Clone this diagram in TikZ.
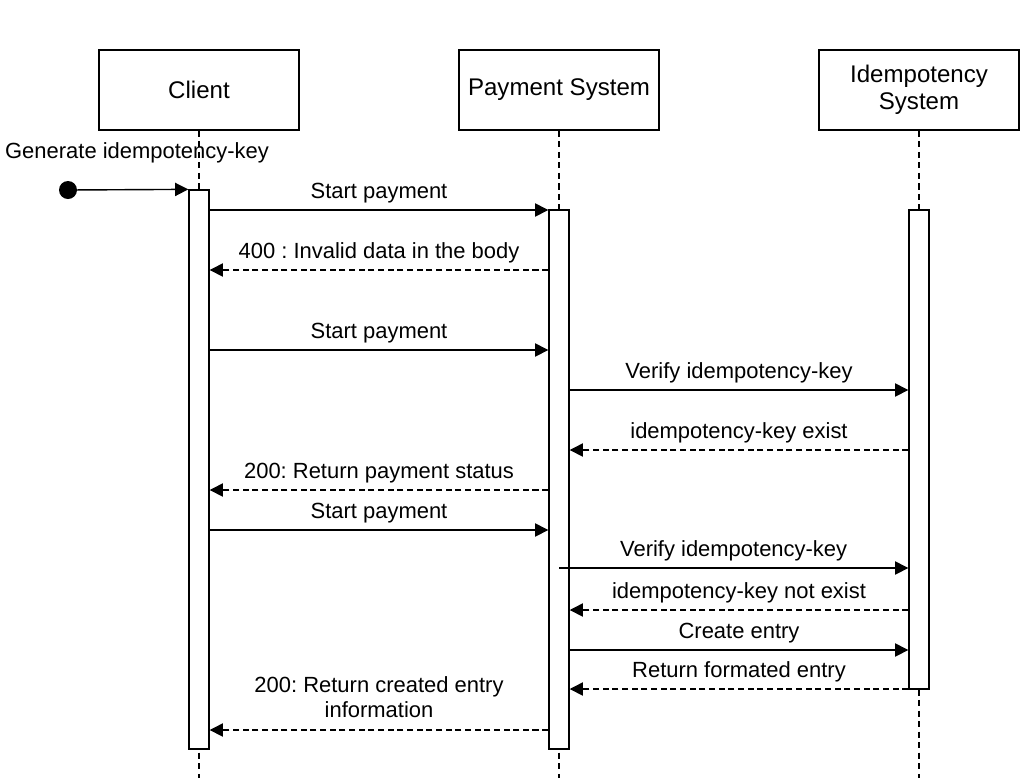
\documentclass[tikz,border=0pt]{standalone}
\usepackage{fontspec}
\setmainfont{Liberation Sans}
\usetikzlibrary{arrows.meta}
\frenchspacing
\begin{document}
\begin{tikzpicture}[x=0.02cm,y=-0.02cm,line width=0.8pt,
    every node/.style={font=\fontsize{12.5}{14.3}\selectfont},
    actor/.style={draw,fill=white,minimum width=4cm,minimum height=1.6cm,align=center,
        font=\fontsize{13.7}{15.3}\selectfont},
    act/.style={draw,fill=white,minimum width=0.4cm},
    life/.style={dash pattern=on 3.5pt off 2.5pt},
    msg/.style={-{Triangle[length=7.5pt,width=7.5pt]}},
    ret/.style={msg,dash pattern=on 3.5pt off 2pt}]
    \useasboundingbox (0,0) rectangle (1026,778);
    \node[actor] (client) at (199,90) {Client};
    \node[actor] (pay) at (559,90) {Payment System};
    \node[actor] (idem) at (919,90) {Idempotency\\System};
    \draw[life] (client.south) -- (client.south |- 0,778);
    \draw[life] (pay.south) -- (pay.south |- 0,778);
    \draw[life] (idem.south) -- (idem.south |- 0,778);
    \node[act,minimum height=11.18cm] (cA) at (199,469.5) {};
    \node[act,minimum height=10.78cm] (pA) at (559,479.5) {};
    \node[act,minimum height=9.58cm] (iA) at (919,449.5) {};
    % start of the flow
    \fill (68,190) circle[radius=9];
    \coordinate (start) at (68,190);
    \node (gen) at (137,153) {Generate idempotency-key};
    \draw[msg] (start) -- (cA.north west);
    % first try
    \draw[msg] (cA.east |- 0,210) -- node[above] (m1) {Start payment} (pA.west |- 0,210);
    \draw[ret] (pA.west |- 0,270) -- node[above] (m2) {400 : Invalid data in the body} (cA.east |- 0,270);
    % second try, key exists
    \draw[msg] (cA.east |- 0,350) -- node[above] (m3) {Start payment} (pA.west |- 0,350);
    \draw[msg] (pA.east |- 0,390) -- node[above] (m4) {Verify idempotency-key} (iA.west |- 0,390);
    \draw[ret] (iA.west |- 0,450) -- node[above] (m5) {idempotency-key exist} (pA.east |- 0,450);
    \draw[ret] (pA.west |- 0,490) -- node[above] (m6) {200: Return payment status} (cA.east |- 0,490);
    % third try, new key
    \draw[msg] (cA.east |- 0,530) -- node[above] (m7) {Start payment} (pA.west |- 0,530);
    \draw[msg] (pA.center |- 0,568) -- node[above] (m8) {Verify idempotency-key} (iA.west |- 0,568);
    \draw[ret] (iA.west |- 0,610) -- node[above] (m9) {idempotency-key not exist} (pA.east |- 0,610);
    \draw[msg] (pA.east |- 0,650) -- node[above] (m10) {Create entry} (iA.west |- 0,650);
    \draw[ret] (iA.west |- 0,689) -- node[above] (m11) {Return formated entry} (pA.east |- 0,689);
    \draw[ret] (pA.west |- 0,730) -- node[above=3pt,align=center] (m12) {200: Return created entry\\information} (cA.east |- 0,730);
\end{tikzpicture}
\end{document}
